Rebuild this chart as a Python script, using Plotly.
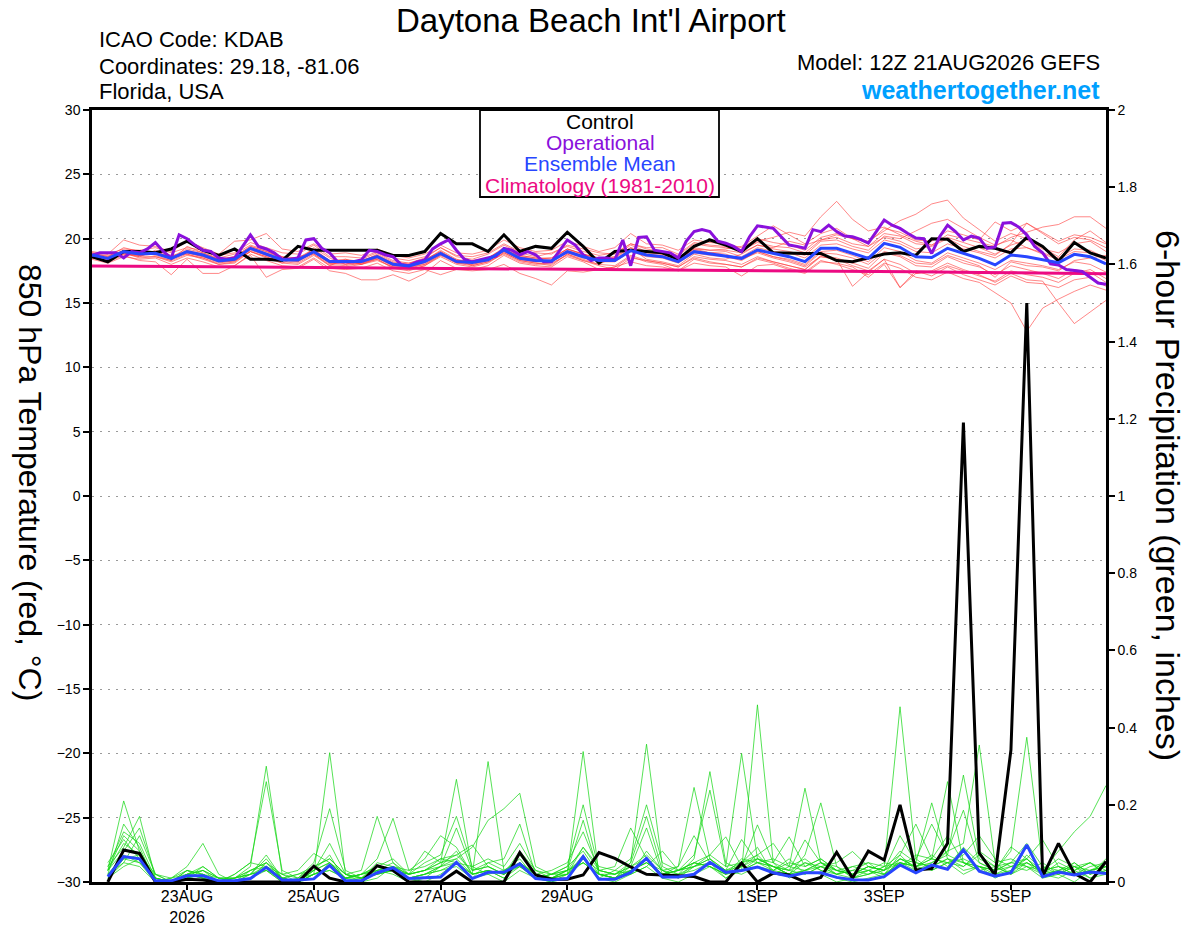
import pandas as pd
import plotly.graph_objects as go

# ---------------- time axes ----------------
START = "2026-08-21 12:00"
t6 = pd.date_range(START, periods=65, freq="6h")     # 6-hourly GEFS output
t3 = pd.date_range(START, periods=129, freq="3h")    # 3-hourly operational
tp = t6[1:]                                          # 6-h precip accumulations
tclim = pd.date_range(START, periods=17, freq="D")   # daily climatology

x_tick_vals = ["2026-08-23", "2026-08-25", "2026-08-27", "2026-08-29",
               "2026-09-01", "2026-09-03", "2026-09-05"]
x_tick_text = ["23AUG<br>2026", "25AUG", "27AUG", "29AUG", "1SEP", "3SEP", "5SEP"]
y_tick_vals = [-30, -25, -20, -15, -10, -5, 0, 5, 10, 15, 20, 25, 30]
y2_tick_vals = [0, 0.2, 0.4, 0.6, 0.8, 1, 1.2, 1.4, 1.6, 1.8, 2]
y2_tick_text = ["0", "0.2", "0.4", "0.6", "0.8", "1", "1.2", "1.4", "1.6", "1.8", "2"]

# ---------------- 850 hPa temperature (C) ----------------
control_temp = [18.6, 18.2, 19.0, 19.0, 18.9, 19.2, 19.8, 19.1, 18.7, 19.2,
                18.4, 18.4, 18.3, 19.4, 19.1, 19.1, 19.1, 19.1, 19.1, 18.7,
                18.7, 19.0, 20.4, 19.6, 19.6, 19.0, 20.3, 19.0, 19.4, 19.25,
                20.5, 19.4, 18.1, 19.0, 19.1, 19.0, 18.9, 18.4, 19.4, 19.9,
                19.5, 19.0, 20.0, 18.9, 18.85, 18.85, 18.85, 18.3, 18.2, 18.5,
                18.8, 18.9, 18.7, 20.0, 19.95, 19.0, 19.4, 19.25, 18.9, 20.1,
                19.4, 18.25, 19.7, 18.9, 18.5]

operational_temp = [18.7, 18.9, 18.9, 18.9, 18.5, 19.0, 18.9, 19.2, 19.7, 19.0,
                    18.5, 20.3, 20.0, 19.5, 19.1, 19.0, 18.5, 18.4, 18.5, 19.4,
                    20.3, 19.4, 19.2, 18.9, 18.4, 18.4, 18.5, 19.9, 20.0, 19.25,
                    18.9, 18.2, 18.2, 18.2, 18.35, 19.1, 19.0, 18.75, 18.6, 18.0,
                    17.9, 18.2, 18.35, 19.2,
                    19.6, 19.9, 19.1, 18.4, 18.2, 18.35, 18.5, 18.65, 19.25, 19.1,
                    18.75, 19.0, 18.75, 18.2, 18.2, 19.1, 19.9, 19.5, 18.75, 18.3,
                    18.5, 18.5, 18.35, 19.9, 17.9, 20.1, 20.15, 19.1, 19.0, 18.9,
                    18.5, 19.8, 20.55, 20.7, 20.55, 19.8, 19.65, 19.4, 19.0, 20.15,
                    21.0, 20.9, 20.8,
                    20.15, 19.5, 19.4, 19.25, 20.7, 20.55, 21.05, 20.55, 20.2, 20.15,
                    19.95, 19.65, 20.55, 21.45, 21.05, 20.8, 20.4, 20.05, 20.0, 18.85,
                    20.15, 21.05, 20.55, 19.9, 20.2, 20.05, 19.25, 19.35, 21.2, 21.25,
                    20.9, 20.3, 19.4, 18.9, 18.05, 17.95, 17.6, 17.55, 17.45, 17.0,
                    16.55, 16.45]

mean_temp = [18.73, 18.47, 18.99, 18.81, 18.86, 18.47, 18.99, 18.73, 18.27, 18.4,
             19.25, 18.8, 18.35, 18.35, 18.99, 18.22, 18.22, 18.22, 18.6, 18.01,
             17.88, 18.22, 18.85, 18.22, 18.14, 18.35, 19.12, 18.47, 18.3, 18.27,
             18.99, 18.6, 18.3, 18.3, 19.07, 18.73, 18.6, 18.22, 18.99, 18.81,
             18.66, 18.47, 19.12, 18.84, 18.6, 18.22, 19.25, 19.25, 18.86, 18.47,
             19.64, 19.33, 18.6, 18.53, 19.25, 18.86, 18.47, 17.96, 18.73, 18.6,
             18.35, 18.14, 18.78, 18.6, 18.03]

climatology_temp = [17.88, 17.85, 17.82, 17.79, 17.76, 17.73, 17.70, 17.67, 17.63,
                    17.59, 17.55, 17.51, 17.47, 17.43, 17.38, 17.33, 17.28]

t_m01 = [18.9, 18.6, 19.3, 19.0, 18.7, 18.3, 19.4, 18.9, 18.5, 18.8, 19.5, 19.1, 18.6,
         18.2, 19.3, 18.5, 18.0, 18.4, 18.9, 18.3, 18.1, 18.5, 19.3, 18.6, 18.4, 18.8,
         19.5, 18.9, 18.6, 18.9, 19.4, 19.0, 18.7, 18.9, 19.6, 19.2, 19.0, 18.7, 19.6,
         19.4, 19.3, 19.1, 19.8, 20.1, 20.5, 20.2, 21.7, 22.9, 21.5, 20.6, 20.9, 20.3,
         19.8, 19.5, 20.1, 19.7, 19.3, 18.8, 19.5, 19.9, 19.2, 18.9, 19.6, 19.8, 19.0]
t_m02 = [18.5, 18.3, 18.8, 18.6, 19.1, 18.7, 18.8, 18.4, 18.0, 18.2, 19.0, 18.6, 18.1,
         18.6, 18.8, 17.9, 18.4, 18.0, 18.3, 17.8, 17.7, 18.0, 18.7, 18.4, 17.9, 18.2,
         18.8, 18.2, 18.0, 18.1, 18.7, 18.3, 18.0, 18.6, 19.3, 18.4, 18.2, 17.9, 18.8,
         18.5, 18.4, 18.8, 19.5, 19.3, 19.8, 19.5, 19.9, 20.3, 20.0, 19.8, 20.6, 21.4,
         21.9, 22.7, 23.0, 21.6, 20.7, 19.8, 20.4, 20.0, 19.3, 18.6, 19.9, 20.6, 19.7]
t_m03 = [18.8, 18.4, 18.9, 18.5, 18.6, 18.2, 18.7, 18.5, 18.0, 18.1, 19.0, 18.5, 18.1,
         18.0, 18.7, 17.9, 17.8, 18.0, 18.4, 17.7, 17.5, 17.9, 18.6, 18.0, 17.8, 18.1,
         18.9, 18.3, 18.1, 17.9, 18.8, 18.4, 18.0, 17.9, 18.7, 18.3, 18.1, 17.8, 18.5,
         18.2, 18.0, 17.8, 18.4, 18.1, 17.7, 17.4, 18.3, 18.0, 17.6, 17.2, 18.1, 17.7,
         17.0, 16.8, 17.4, 16.9, 16.6, 15.8, 15.0, 12.8, 14.6, 15.3, 15.9, 16.4, 16.0]
t_m04 = [18.6, 18.3, 19.1, 18.9, 19.0, 18.6, 19.2, 18.9, 18.4, 18.6, 19.4, 19.0, 18.6,
         18.5, 19.2, 18.3, 18.4, 18.2, 18.8, 18.2, 18.0, 18.3, 19.1, 18.4, 18.2, 18.5,
         19.3, 18.7, 18.5, 18.4, 19.2, 18.8, 18.5, 18.4, 19.2, 18.9, 18.8, 18.4, 19.2,
         18.9, 18.8, 18.4, 18.9, 18.5, 18.2, 17.8, 18.6, 18.4, 17.9, 17.5, 18.4, 18.0,
         17.3, 17.5, 18.1, 17.6, 17.2, 16.6, 17.3, 16.8, 16.7, 15.0, 13.4, 14.3, 15.2]
t_m05 = [18.9, 18.8, 19.2, 19.1, 19.3, 18.9, 19.3, 19.1, 18.7, 18.9, 19.7, 19.3, 18.9,
         18.8, 19.5, 18.6, 18.6, 18.5, 19.0, 18.5, 18.3, 18.6, 19.3, 18.7, 18.6, 18.9,
         19.6, 19.0, 18.9, 18.8, 19.5, 19.2, 18.9, 18.8, 19.6, 19.3, 19.3, 18.8, 19.7,
         19.5, 19.4, 19.1, 19.7, 19.4, 19.3, 18.9, 19.9, 20.1, 19.6, 19.4, 20.4, 20.2,
         19.6, 19.5, 20.3, 20.0, 19.7, 19.4, 20.1, 20.5, 20.9, 21.1, 21.7, 21.7, 20.8]
t_m06 = [18.4, 18.1, 18.6, 18.4, 18.5, 18.0, 18.5, 18.2, 17.8, 17.9, 18.8, 18.3, 17.9,
         17.8, 18.5, 17.7, 17.6, 17.7, 18.1, 17.5, 17.3, 17.6, 17.2, 17.6, 17.5, 17.6,
         18.0, 17.3, 16.9, 16.4, 17.5, 17.4, 17.6, 17.8, 18.2, 17.9, 17.8, 17.5, 18.1,
         17.9, 17.8, 17.1, 17.9, 18.0, 17.6, 17.3, 18.2, 18.1, 17.8, 17.0, 18.0, 16.2,
         17.3, 17.4, 17.9, 17.5, 17.1, 16.7, 17.5, 17.2, 17.0, 16.6, 17.3, 17.6, 16.9]
t_m07 = [18.5, 18.2, 18.7, 18.3, 18.2, 17.2, 18.4, 17.3, 17.3, 17.9, 18.7, 17.0, 17.6,
         17.7, 18.4, 17.5, 17.3, 16.8, 16.8, 17.2, 16.7, 17.3, 18.3, 17.7, 17.6, 17.9,
         18.7, 18.1, 17.9, 17.8, 18.6, 18.2, 17.6, 17.8, 18.6, 18.2, 18.0, 17.5, 18.4,
         18.1, 18.0, 17.8, 18.5, 18.2, 17.9, 17.6, 18.7, 18.5, 18.1, 17.7, 18.9, 18.6,
         17.9, 17.8, 18.6, 18.1, 17.8, 17.2, 17.9, 17.6, 17.3, 16.9, 17.6, 17.4, 16.6]
t_m08 = [19.0, 18.8, 19.9, 19.5, 19.4, 19.0, 19.8, 19.3, 18.8, 19.8, 19.9, 20.4, 19.2,
         19.0, 19.6, 18.8, 18.9, 18.7, 19.2, 18.7, 18.5, 18.8, 19.5, 18.9, 18.8, 19.1,
         19.9, 19.3, 19.0, 19.1, 19.8, 19.4, 19.0, 19.3, 20.4, 19.6, 19.5, 19.1, 19.9,
         19.7, 19.6, 19.3, 20.0, 19.7, 19.5, 19.1, 20.1, 20.4, 20.0, 19.7, 20.8, 20.5,
         19.9, 19.8, 20.6, 20.3, 19.9, 21.3, 20.6, 21.2, 20.5, 19.8, 20.3, 20.1, 19.6]
t_m09 = [18.7, 18.5, 18.9, 18.7, 18.8, 18.4, 18.9, 18.6, 18.2, 18.3, 19.1, 18.7, 18.3,
         18.2, 18.9, 18.1, 18.1, 18.0, 18.5, 17.9, 17.8, 18.1, 18.8, 18.1, 18.0, 18.3,
         19.0, 18.4, 18.2, 18.2, 18.9, 18.5, 18.2, 18.2, 19.0, 18.6, 18.5, 18.1, 18.9,
         18.7, 18.6, 18.3, 19.0, 18.6, 18.4, 18.0, 19.0, 19.1, 18.7, 18.2, 19.3, 19.0,
         18.3, 18.1, 18.9, 18.5, 18.1, 17.6, 18.3, 18.1, 17.9, 17.6, 18.2, 18.0, 17.4]
t_m10 = [18.8, 18.7, 19.0, 18.9, 19.0, 18.5, 19.0, 18.8, 18.4, 18.5, 19.3, 18.9, 18.5,
         18.4, 19.1, 18.3, 18.2, 18.3, 18.7, 18.1, 17.9, 18.3, 19.0, 18.3, 18.2, 18.5,
         19.2, 18.6, 18.4, 18.5, 19.2, 18.8, 18.4, 18.3, 19.0, 18.8, 18.7, 18.4, 19.1,
         18.9, 19.0, 18.6, 19.3, 19.0, 18.9, 18.5, 19.5, 19.6, 19.2, 18.9, 19.9, 19.6,
         19.0, 18.9, 19.6, 19.2, 18.9, 18.5, 19.2, 19.3, 18.9, 18.5, 19.2, 19.1, 18.5]
t_m11 = [18.6, 18.4, 18.9, 18.7, 18.9, 18.6, 19.0, 18.7, 18.3, 18.4, 19.2, 18.8, 18.3,
         18.3, 18.9, 18.1, 18.2, 18.1, 18.6, 18.0, 17.9, 18.2, 18.9, 18.3, 18.2, 18.5,
         19.2, 18.6, 18.4, 18.3, 19.1, 18.7, 18.4, 18.5, 19.3, 19.0, 18.9, 18.5, 19.3,
         19.1, 19.1, 18.9, 19.5, 19.2, 19.0, 18.7, 19.8, 19.9, 19.4, 19.1, 20.2, 20.0,
         20.6, 21.2, 21.5, 20.8, 20.1, 19.5, 19.9, 19.3, 18.8, 18.4, 19.0, 18.9, 18.3]
t_m12 = [18.7, 18.4, 18.9, 18.6, 18.6, 18.3, 18.8, 18.5, 18.1, 18.3, 19.0, 18.6, 18.2,
         18.1, 18.8, 18.0, 17.9, 18.1, 18.4, 17.8, 17.6, 17.9, 18.7, 18.1, 17.9, 18.2,
         18.9, 18.3, 18.1, 18.0, 18.8, 18.3, 17.9, 17.6, 18.5, 18.3, 18.1, 17.8, 18.6,
         18.4, 18.3, 18.0, 18.6, 18.2, 17.9, 17.6, 18.6, 18.4, 16.3, 17.4, 18.4, 16.2,
         17.5, 17.1, 17.8, 17.2, 16.8, 16.4, 17.1, 16.6, 16.5, 16.2, 16.8, 17.0, 16.3]
t_m13 = [18.8, 18.6, 19.1, 18.8, 18.8, 18.5, 19.1, 18.8, 18.4, 18.6, 19.4, 19.0, 18.5,
         18.5, 19.1, 18.3, 18.3, 18.3, 18.7, 18.1, 18.1, 18.4, 19.0, 18.3, 18.3, 18.5,
         19.1, 18.7, 18.5, 18.5, 19.2, 18.8, 18.5, 18.6, 19.5, 19.0, 18.8, 18.4, 19.2,
         19.1, 19.2, 19.4, 20.2, 21.0, 20.3, 19.6, 20.4, 20.8, 20.0, 19.4, 20.1, 19.8,
         19.2, 19.4, 20.0, 19.4, 19.0, 18.7, 19.6, 21.2, 20.4, 19.6, 20.1, 19.9, 19.3]
t_m14 = [18.6, 18.5, 18.8, 18.7, 18.9, 18.4, 18.9, 18.6, 18.2, 18.2, 19.2, 18.7, 18.3,
         18.3, 19.0, 18.1, 18.0, 18.1, 18.5, 17.9, 17.8, 18.0, 18.8, 18.2, 18.0, 18.3,
         19.0, 18.4, 18.2, 18.3, 18.9, 18.6, 18.3, 18.3, 19.1, 18.7, 18.6, 18.3, 19.0,
         18.8, 18.6, 18.4, 19.0, 18.6, 18.3, 17.9, 18.9, 18.8, 18.5, 18.0, 19.0, 18.7,
         18.1, 18.0, 18.7, 18.3, 17.9, 17.0, 18.2, 17.9, 17.8, 17.5, 18.3, 18.5, 18.7]

# ---------------- 6-hour precipitation (inches) ----------------
control_precip = [0.0, 0.083, 0.074, 0.0, 0.0, 0.007, 0.005, 0.0, 0.0, 0.0,
                  0.0, 0.0, 0.0, 0.041, 0.01, 0.0, 0.0, 0.042, 0.03, 0.0,
                  0.0, 0.0, 0.028, 0.0, 0.0, 0.0, 0.076, 0.018, 0.007, 0.007,
                  0.018, 0.076, 0.061, 0.039, 0.02, 0.018, 0.017, 0.014, 0.0, 0.0,
                  0.049, 0.0, 0.023, 0.018, 0.0, 0.012, 0.077, 0.01, 0.08, 0.057,
                  0.2, 0.031, 0.035, 0.1, 1.19, 0.075, 0.018, 0.342, 1.5, 0.014,
                  0.1, 0.022, 0.0, 0.053]
mean_precip = [0.014, 0.066, 0.06, 0.003, 0.003, 0.016, 0.016, 0.003, 0.003, 0.009,
               0.038, 0.005, 0.005, 0.008, 0.043, 0.003, 0.003, 0.024, 0.037, 0.009,
               0.011, 0.013, 0.051, 0.009, 0.025, 0.025, 0.047, 0.009, 0.005, 0.009,
               0.066, 0.007, 0.007, 0.025, 0.061, 0.013, 0.013, 0.02, 0.051, 0.025,
               0.03, 0.039, 0.024, 0.015, 0.024, 0.024, 0.012, 0.006, 0.005, 0.014,
               0.044, 0.024, 0.044, 0.033, 0.083, 0.028, 0.015, 0.024, 0.096, 0.014,
               0.026, 0.018, 0.026, 0.022]

p_m01 = [0.03, 0.21, 0.08, 0, 0, 0.02, 0.01, 0, 0, 0.01, 0.03, 0, 0, 0.02, 0.335, 0.02,
         0, 0.01, 0.04, 0.01, 0, 0.02, 0.05, 0.01, 0.02, 0, 0.03, 0.01, 0, 0.02, 0.338, 0.02,
         0.01, 0.03, 0.06, 0.01, 0, 0.02, 0.04, 0.01, 0.03, 0.459, 0.05, 0.01, 0.03, 0.02, 0, 0.01,
         0.02, 0.04, 0.454, 0.06, 0.03, 0.05, 0.02, 0.04, 0.01, 0.03, 0.06, 0.02, 0.01, 0.03, 0.01, 0.02]
p_m02 = [0.04, 0.09, 0.17, 0.01, 0, 0.03, 0.02, 0, 0.01, 0.04, 0.30, 0.02, 0, 0.01, 0.05, 0.01,
         0, 0.03, 0.02, 0, 0.01, 0.04, 0.08, 0.02, 0.312, 0.03, 0.05, 0.01, 0, 0.01, 0.06, 0.01,
         0, 0.02, 0.08, 0.03, 0.01, 0.04, 0.06, 0.02, 0.05, 0.09, 0.02, 0.04, 0.06, 0.03, 0.01, 0,
         0.01, 0.02, 0.07, 0.03, 0.05, 0.08, 0.1, 0.355, 0.05, 0.02, 0.04, 0.01, 0.02, 0, 0.03, 0.04]
p_m03 = [0.02, 0.15, 0.09, 0, 0, 0.01, 0.04, 0.01, 0, 0.02, 0.06, 0.01, 0, 0.03, 0.07, 0,
         0.01, 0.04, 0.06, 0.02, 0.03, 0.05, 0.266, 0.03, 0.04, 0.02, 0.07, 0.02, 0.01, 0.03, 0.09, 0.03,
         0.02, 0.05, 0.357, 0.04, 0.02, 0.03, 0.05, 0.01, 0.04, 0.07, 0.03, 0.06, 0.02, 0.04, 0.02, 0.01,
         0.03, 0.01, 0.06, 0.04, 0.07, 0.04, 0.09, 0.05, 0.03, 0.08, 0.375, 0.04, 0.02, 0.05, 0.02, 0.06]
p_m04 = [0.05, 0.11, 0.06, 0.01, 0, 0.02, 0.03, 0, 0.02, 0.05, 0.26, 0.03, 0.01, 0.04, 0.06, 0.02,
         0.03, 0.17, 0.05, 0.01, 0.02, 0.03, 0.04, 0.01, 0.05, 0.03, 0.04, 0.01, 0.02, 0.02, 0.05, 0.02,
         0.01, 0.04, 0.06, 0.02, 0.03, 0.05, 0.07, 0.04, 0.333, 0.06, 0.04, 0.02, 0.05, 0.03, 0.02, 0.04,
         0.05, 0.02, 0.04, 0.07, 0.06, 0.26, 0.05, 0.03, 0.02, 0.04, 0.03, 0.05, 0.02, 0.04, 0.01, 0.03]
p_m05 = [0.03, 0.08, 0.14, 0.02, 0, 0.01, 0.02, 0.01, 0.01, 0.03, 0.04, 0.01, 0, 0.02, 0.04, 0.01,
         0.02, 0.06, 0.165, 0.03, 0.04, 0.06, 0.05, 0.02, 0.03, 0.01, 0.05, 0.02, 0.01, 0.02, 0.07, 0.01,
         0.03, 0.02, 0.04, 0.01, 0.02, 0.06, 0.286, 0.05, 0.03, 0.05, 0.06, 0.04, 0.243, 0.05, 0.02, 0.03,
         0.02, 0.04, 0.05, 0.03, 0.04, 0.06, 0.04, 0.07, 0.04, 0.05, 0.06, 0.03, 0.08, 0.13, 0.17, 0.25]
p_m06 = [0.02, 0.07, 0.05, 0, 0.01, 0.03, 0.01, 0, 0, 0.01, 0.05, 0.02, 0.01, 0.05, 0.19, 0.03,
         0.01, 0.02, 0.03, 0.01, 0.02, 0.04, 0.06, 0.09, 0.16, 0.19, 0.23, 0.04, 0.02, 0.03, 0.05, 0.02,
         0.01, 0.03, 0.05, 0.02, 0.04, 0.245, 0.06, 0.03, 0.02, 0.04, 0.03, 0.05, 0.04, 0.06, 0.03, 0.02,
         0.04, 0.03, 0.08, 0.05, 0.205, 0.06, 0.03, 0.04, 0.02, 0.03, 0.05, 0.02, 0.03, 0.02, 0.04, 0.05]
p_m07 = [0.04, 0.13, 0.1, 0.01, 0, 0.02, 0.03, 0.01, 0.01, 0.02, 0.07, 0.01, 0, 0.03, 0.05, 0.01,
         0.02, 0.04, 0.03, 0.02, 0.05, 0.07, 0.17, 0.04, 0.02, 0.03, 0.06, 0.01, 0.02, 0.04, 0.2, 0.03,
         0.02, 0.04, 0.07, 0.03, 0.01, 0.05, 0.04, 0.02, 0.06, 0.05, 0.03, 0.02, 0.07, 0.205, 0.04, 0.01,
         0.02, 0.03, 0.06, 0.04, 0.05, 0.07, 0.277, 0.06, 0.04, 0.02, 0.07, 0.03, 0.04, 0.02, 0.03, 0.04]
p_m08 = [0.01, 0.06, 0.07, 0.02, 0.01, 0.04, 0.1, 0.02, 0, 0.03, 0.05, 0.01, 0.02, 0.04, 0.06, 0.02,
         0.01, 0.05, 0.04, 0.02, 0.03, 0.06, 0.07, 0.03, 0.04, 0.02, 0.08, 0.03, 0.01, 0.02, 0.09, 0.04,
         0.03, 0.06, 0.2, 0.05, 0.03, 0.07, 0.238, 0.04, 0.05, 0.06, 0.04, 0.03, 0.05, 0.04, 0.02, 0.03,
         0.05, 0.04, 0.07, 0.15, 0.06, 0.05, 0.04, 0.08, 0.05, 0.06, 0.04, 0.02, 0.05, 0.03, 0.05, 0.02]
p_m09 = [0.03, 0.12, 0.08, 0.01, 0, 0.02, 0.01, 0, 0.01, 0.02, 0.03, 0, 0.01, 0.02, 0.04, 0.01,
         0.02, 0.03, 0.04, 0.03, 0.06, 0.12, 0.09, 0.02, 0.03, 0.02, 0.05, 0.02, 0.01, 0.03, 0.16, 0.02,
         0.01, 0.05, 0.17, 0.03, 0.02, 0.04, 0.05, 0.03, 0.04, 0.148, 0.05, 0.03, 0.02, 0.04, 0.03, 0.02,
         0.03, 0.02, 0.05, 0.04, 0.03, 0.05, 0.06, 0.04, 0.03, 0.04, 0.06, 0.02, 0.03, 0.04, 0.02, 0.03]
p_m10 = [0.02, 0.05, 0.12, 0.02, 0, 0.01, 0.02, 0, 0, 0.01, 0.04, 0.02, 0.03, 0.074, 0.05, 0.02,
         0.01, 0.03, 0.05, 0.02, 0.03, 0.04, 0.14, 0.03, 0.05, 0.06, 0.15, 0.02, 0.01, 0.02, 0.06, 0.03,
         0.04, 0.14, 0.06, 0.02, 0.03, 0.05, 0.04, 0.02, 0.03, 0.06, 0.04, 0.02, 0.03, 0.05, 0.04, 0.02,
         0.04, 0.03, 0.06, 0.05, 0.04, 0.08, 0.186, 0.05, 0.03, 0.05, 0.04, 0.03, 0.06, 0.04, 0.03, 0.05]
p_m11 = [0.01, 0.04, 0.06, 0, 0, 0.02, 0.04, 0.01, 0, 0.02, 0.03, 0.01, 0, 0.03, 0.05, 0.01,
         0.02, 0.04, 0.03, 0.02, 0.08, 0.05, 0.06, 0.02, 0.03, 0.01, 0.04, 0.02, 0.03, 0.05, 0.13, 0.03,
         0.02, 0.04, 0.14, 0.02, 0.03, 0.04, 0.06, 0.03, 0.05, 0.07, 0.1, 0.04, 0.03, 0.05, 0.03, 0.02,
         0.03, 0.05, 0.04, 0.06, 0.15, 0.07, 0.05, 0.03, 0.04, 0.02, 0.05, 0.03, 0.04, 0.02, 0.03, 0.04]
p_m12 = [0.03, 0.1, 0.07, 0.01, 0, 0.03, 0.02, 0, 0.01, 0.03, 0.05, 0.01, 0.02, 0.03, 0.1, 0.02,
         0.01, 0.02, 0.03, 0.01, 0.02, 0.03, 0.05, 0.04, 0.06, 0.04, 0.1, 0.03, 0.02, 0.04, 0.08, 0.02,
         0.01, 0.03, 0.05, 0.02, 0.03, 0.04, 0.07, 0.117, 0.04, 0.06, 0.05, 0.117, 0.04, 0.06, 0.03, 0.02,
         0.04, 0.03, 0.05, 0.04, 0.06, 0.05, 0.07, 0.12, 0.06, 0.04, 0.05, 0.03, 0.02, 0.04, 0.05, 0.03]
p_m13 = [0.02, 0.06, 0.05, 0.01, 0, 0.01, 0.03, 0.01, 0.01, 0.02, 0.04, 0.01, 0, 0.02, 0.03, 0.01,
         0.02, 0.03, 0.04, 0.02, 0.03, 0.05, 0.07, 0.096, 0.04, 0.02, 0.05, 0.02, 0.01, 0.03, 0.05, 0.02,
         0.02, 0.03, 0.05, 0.03, 0.04, 0.12, 0.05, 0.03, 0.11, 0.05, 0.04, 0.03, 0.109, 0.05, 0.03, 0.04,
         0.03, 0.02, 0.05, 0.04, 0.06, 0.12, 0.05, 0.04, 0.03, 0.05, 0.1, 0.04, 0.03, 0.05, 0.02, 0.04]
p_m14 = [0.01, 0.05, 0.04, 0, 0.01, 0.02, 0.01, 0, 0.02, 0.05, 0.04, 0.01, 0, 0.02, 0.03, 0.01,
         0.01, 0.02, 0.03, 0.01, 0.02, 0.04, 0.05, 0.02, 0.03, 0.02, 0.04, 0.01, 0.02, 0.03, 0.06, 0.02,
         0.01, 0.02, 0.04, 0.08, 0.03, 0.05, 0.04, 0.02, 0.03, 0.05, 0.04, 0.02, 0.03, 0.04, 0.05, 0.079,
         0.04, 0.03, 0.12, 0.05, 0.04, 0.06, 0.05, 0.04, 0.03, 0.091, 0.06, 0.109, 0.04, 0.03, 0.05, 0.02]

temp_members = [t_m01, t_m02, t_m03, t_m04, t_m05, t_m06, t_m07,
                t_m08, t_m09, t_m10, t_m11, t_m12, t_m13, t_m14]
precip_members = [p_m01, p_m02, p_m03, p_m04, p_m05, p_m06, p_m07,
                  p_m08, p_m09, p_m10, p_m11, p_m12, p_m13, p_m14]

# ---------------- styles ----------------
FONT = "Liberation Sans, Arial, sans-serif"
C_CONTROL = "#000000"
C_OPER = "#8a10dc"
C_MEAN = "#2846ff"
C_CLIM = "#ec0a82"
C_RED = "rgba(255,55,55,0.75)"
C_GREEN = "rgba(20,215,20,0.9)"

fig = go.Figure()

for m in temp_members:
    fig.add_trace(go.Scatter(x=t6, y=m, mode="lines", yaxis="y",
                             line=dict(color=C_RED, width=0.8), hoverinfo="skip"))
for m in precip_members:
    fig.add_trace(go.Scatter(x=tp, y=m, mode="lines", yaxis="y2",
                             line=dict(color=C_GREEN, width=0.8), hoverinfo="skip"))

fig.add_trace(go.Scatter(x=tclim, y=climatology_temp, mode="lines", yaxis="y",
                         line=dict(color=C_CLIM, width=3)))
fig.add_trace(go.Scatter(x=t6, y=control_temp, mode="lines", yaxis="y",
                         line=dict(color=C_CONTROL, width=3)))
fig.add_trace(go.Scatter(x=t3, y=operational_temp, mode="lines", yaxis="y",
                         line=dict(color=C_OPER, width=3)))
fig.add_trace(go.Scatter(x=t6, y=mean_temp, mode="lines", yaxis="y",
                         line=dict(color=C_MEAN, width=3)))
fig.add_trace(go.Scatter(x=tp, y=control_precip, mode="lines", yaxis="y2",
                         line=dict(color=C_CONTROL, width=3)))
fig.add_trace(go.Scatter(x=tp, y=mean_precip, mode="lines", yaxis="y2",
                         line=dict(color=C_MEAN, width=3)))

# the page's default body margin is removed (post_script below), so the
# figure starts at the window's top-left corner
W, H = 1200, 927
PL, PR, PT, PB = 92, 1106, 110, 882          # plot box in pixels
L, T = PL, PT
R = W - PR
B = H - PB
PW, PH = PR - PL, PB - PT


def px(xp):
    return (xp - PL) / PW


def py(yp):
    return (PB - yp) / PH


fig.update_layout(
    width=W, height=H,
    margin=dict(l=L, r=R, t=T, b=B, autoexpand=False),
    paper_bgcolor="white", plot_bgcolor="white",
    showlegend=False, hovermode=False,
    font=dict(family=FONT, color="black"),
    xaxis=dict(type="date", range=[t6[0], t6[-1]],
               tickvals=x_tick_vals, ticktext=x_tick_text,
               ticks="outside", ticklen=5, tickwidth=1.5, tickcolor="black",
               ticklabelstandoff=-7,
               showline=True, linewidth=2.5, linecolor="black", mirror=True,
               showgrid=False, zeroline=False, tickfont=dict(size=16),
               automargin=False),
    yaxis=dict(range=[-30, 30], tickvals=y_tick_vals,
               ticks="outside", ticklen=6, tickwidth=1.5, tickcolor="black",
               showline=True, linewidth=2.5, linecolor="black",
               showgrid=True, gridcolor="#9a9a9a", gridwidth=1.2, griddash="2px,6px",
               zeroline=False, tickfont=dict(size=14), automargin=False),
    yaxis2=dict(range=[0, 2], overlaying="y", side="right",
                tickvals=y2_tick_vals, ticktext=y2_tick_text,
                ticks="outside", ticklen=6, tickwidth=1.5, tickcolor="black",
                showline=True, linewidth=2.5, linecolor="black",
                showgrid=False, zeroline=False, tickfont=dict(size=14),
                automargin=False),
)

ann = []
ann.append(dict(text="Daytona Beach Int'l Airport", x=px(591), y=py(20),
                xanchor="center", yanchor="middle", font=dict(size=33)))
ann.append(dict(text="ICAO Code: KDAB", x=px(97), y=py(40),
                xanchor="left", yanchor="middle", font=dict(size=22)))
ann.append(dict(text="Coordinates: 29.18, -81.06", x=px(97), y=py(66),
                xanchor="left", yanchor="middle", font=dict(size=22)))
ann.append(dict(text="Florida, USA", x=px(97), y=py(92),
                xanchor="left", yanchor="middle", font=dict(size=22)))
ann.append(dict(text="Model: 12Z 21AUG2026 GEFS", x=px(1102), y=py(62),
                xanchor="right", yanchor="middle", font=dict(size=22)))
ann.append(dict(text="<b>weathertogether.net</b>", x=px(1102), y=py(90),
                xanchor="right", yanchor="middle",
                font=dict(size=25, color="#00a0ff")))
ann.append(dict(text="850 hPa Temperature (red, °C)", x=px(30), y=py(482),
                xanchor="center", yanchor="middle", textangle=90,
                font=dict(size=32)))
ann.append(dict(text="6-hour Precipitation (green, inches)", x=px(1168), y=py(495),
                xanchor="center", yanchor="middle", textangle=90,
                font=dict(size=34)))
legend_items = [("Control", C_CONTROL, 121), ("Operational", C_OPER, 142),
                ("Ensemble Mean", C_MEAN, 163), ("Climatology (1981-2010)", C_CLIM, 185)]
for txt, col, yy in legend_items:
    ann.append(dict(text=txt, x=px(600), y=py(yy), xanchor="center", yanchor="middle",
                    font=dict(size=21, color=col)))
for a in ann:
    a.update(xref="paper", yref="paper", showarrow=False)
fig.update_layout(annotations=ann)

fig.add_shape(type="rect", xref="paper", yref="paper",
              x0=px(480), x1=px(719), y0=py(197), y1=py(110),
              fillcolor="white", line=dict(color="black", width=1.8), layer="above")

fig.write_html("out.html", config={"displayModeBar": False},
               post_script="document.body.style.margin='0px';")
